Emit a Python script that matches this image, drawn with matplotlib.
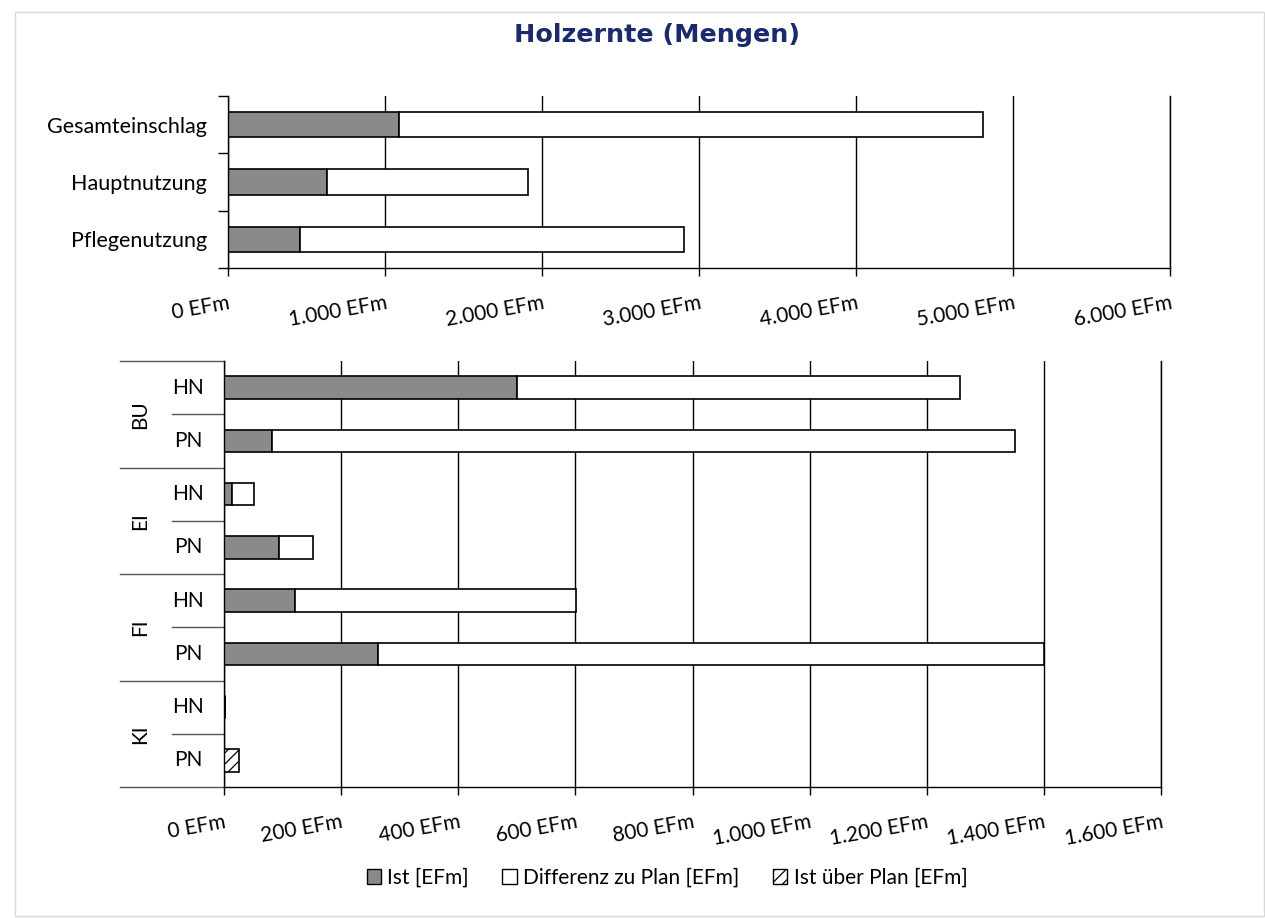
import matplotlib
matplotlib.use("Agg")
import matplotlib.pyplot as plt
from matplotlib.patches import Patch, Rectangle
from matplotlib.ticker import FuncFormatter

plt.rcParams['font.family'] = ['Lato', 'DejaVu Sans']
plt.rcParams['hatch.linewidth'] = 0.9

# top panel data
top_cats = ["Gesamteinschlag", "Hauptnutzung", "Pflegenutzung"]
top_ist = [1090, 630, 460]
top_diff = [3720, 1280, 2445]

# bottom panel data
groups = ["BU", "EI", "FI", "KI"]
sub_labels = ["HN", "PN"]
bot_ist = [500, 82, 14, 94, 121, 263, 1, 0]
bot_diff = [757, 1269, 37, 58, 480, 1137, 0, 0]
bot_ueber = [0, 0, 0, 0, 0, 0, 0, 26]

legend_labels = ["Ist [EFm]", "Differenz zu Plan [EFm]", "Ist über Plan [EFm]"]

GRAY = "#8a8a8a"
W, H = 1265, 918
FS = 15


def efm(v, pos):
    return f"{int(v):,} EFm".replace(",", ".")


def px_axes(fig, left, top, right, bottom):
    return fig.add_axes([left / W, 1 - bottom / H, (right - left) / W, (bottom - top) / H])


def style_x(ax):
    ax.xaxis.set_major_formatter(FuncFormatter(efm))
    ax.grid(axis="x", color="black", linewidth=1.0)
    ax.set_axisbelow(True)
    ax.spines["top"].set_visible(False)
    for s in ["left", "bottom", "right"]:
        ax.spines[s].set_linewidth(1.0)
    ax.tick_params(axis="x", direction="out", length=6, width=1.0, pad=12, labelsize=FS)
    for lab in ax.get_xticklabels():
        lab.set_rotation(10)
        lab.set_rotation_mode("anchor")
        lab.set_ha("right")
        lab.set_va("top")


fig = plt.figure(figsize=(W / 100, H / 100), dpi=100)
fig.patches.append(Rectangle((15 / W, 0.002), 1 - 16 / W, 1 - 14 / H, transform=fig.transFigure,
                             fill=False, edgecolor="#d8d8d8", linewidth=1.0))

fig.text(657 / W, 1 - 35 / H, "Holzernte (Mengen)", ha="center", va="center",
         fontsize=18.3, fontweight="bold", color="#1a2a6c", family="DejaVu Sans")

# ---- top panel
ax1 = px_axes(fig, 228, 96, 1170, 268)
y1 = list(range(len(top_cats)))
ax1.barh(y1, top_ist, height=0.44, color=GRAY, edgecolor="black", linewidth=1.2)
ax1.barh(y1, top_diff, left=top_ist, height=0.44, color="white", edgecolor="black", linewidth=1.2)
ax1.set_xlim(0, 6000)
ax1.set_xticks(range(0, 6001, 1000))
ax1.set_ylim(2.5, -0.5)
ax1.set_yticks(y1)
ax1.set_yticklabels(top_cats, fontsize=FS + 0.5)
ax1.set_yticks([-0.5, 0.5, 1.5, 2.5], minor=True)
ax1.tick_params(axis="y", which="major", length=0, pad=15)
ax1.tick_params(axis="y", which="minor", length=7, width=1.0)
style_x(ax1)

# ---- bottom panel
ax2 = px_axes(fig, 224, 361, 1161, 787)
y2 = list(range(len(bot_ist)))
ax2.barh(y2, bot_ist, height=0.42, color=GRAY, edgecolor="black", linewidth=1.2)
ax2.barh(y2, bot_diff, left=bot_ist, height=0.42, color="white", edgecolor="black", linewidth=1.2)
for i, v in enumerate(bot_ueber):
    if v > 0:
        ax2.barh(i, v, left=bot_ist[i] + bot_diff[i], height=0.42, color="white",
                 edgecolor="black", linewidth=1.2, hatch="///")
ax2.set_xlim(0, 1600)
ax2.set_xticks(range(0, 1601, 200))
ax2.set_ylim(len(bot_ist) - 0.5, -0.5)
ax2.set_yticks([])
style_x(ax2)

ytr = ax2.get_yaxis_transform()
for gi, g in enumerate(groups):
    top_b = gi * 2 - 0.5
    ax2.plot([-0.111, 0], [top_b, top_b], transform=ytr, clip_on=False, color="#555555", lw=1.0)
    ax2.plot([-0.055, 0], [top_b + 1, top_b + 1], transform=ytr, clip_on=False, color="#555555", lw=1.0)
    ax2.text(-0.09, gi * 2 + 0.5, g, transform=ytr, rotation=90, ha="center", va="center", fontsize=FS)
    for si, s in enumerate(sub_labels):
        ax2.text(-0.038, gi * 2 + si, s, transform=ytr, ha="center", va="center", fontsize=FS)
ax2.plot([-0.111, 0], [7.5, 7.5], transform=ytr, clip_on=False, color="#555555", lw=1.0)

handles = [Patch(facecolor=GRAY, edgecolor="black"),
           Patch(facecolor="white", edgecolor="black"),
           Patch(facecolor="white", edgecolor="black", hatch="///")]
fig.legend(handles, legend_labels, loc="center", bbox_to_anchor=(667 / W, 1 - 878 / H), ncol=3,
           frameon=False, fontsize=FS, handlelength=0.7, handleheight=0.7, handletextpad=0.3,
           columnspacing=1.6)

fig.savefig("out.png", dpi=100)
